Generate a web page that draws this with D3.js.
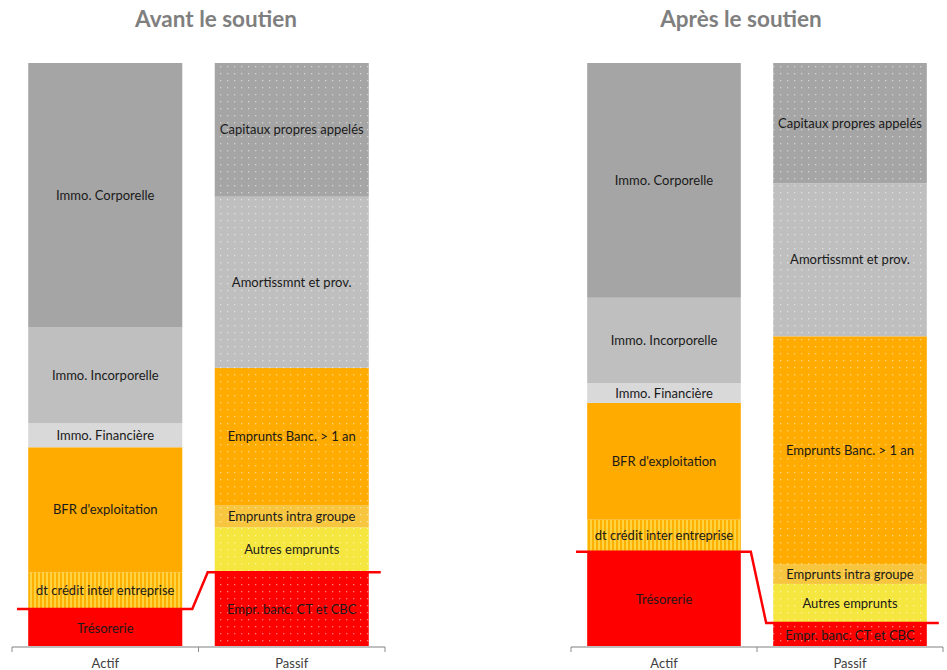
<!DOCTYPE html>
<html>
<head>
<meta charset="utf-8">
<script src="https://cdn.jsdelivr.net/npm/d3@7/dist/d3.min.js"></script>
<style>
  html, body { margin: 0; padding: 0; background: #fff; }
  svg { display: block; }
</style>
</head>
<body>
<svg id="chart" width="947" height="670"></svg>
<script>
// Balance sheet structure, in % of total, before and after the support
const categories = ["Actif", "Passif"];
const titles = ["Avant le soutien", "Après le soutien"];

const actifItems = ["Trésorerie", "dt crédit inter entreprise", "BFR d'exploitation",
  "Immo. Financière", "Immo. Incorporelle", "Immo. Corporelle"];
const passifItems = ["Empr. banc. CT et CBC", "Autres emprunts", "Emprunts intra groupe",
  "Emprunts Banc. > 1 an", "Amortissmnt et prov.", "Capitaux propres appelés"];

const avantActif = [6.5, 6.3, 21.4, 4.1, 16.4, 45.3];
const avantPassif = [12.8, 7.7, 3.8, 23.5, 29.3, 22.9];
const apresActif = [16.3, 5.5, 20.0, 3.4, 14.6, 40.2];
const apresPassif = [4.1, 6.7, 3.4, 39.0, 26.2, 20.6];

// fill keys for each segment (bottom to top)
const actifFills = ["tres", "dtcredit", "bfr", "ifin", "iincorp", "icorp"];
const passifFills = ["p-ct", "p-autres", "p-intra", "p-banc", "p-amort", "p-cap"];

const FONT = "Lato, 'Open Sans', sans-serif";

const svg = d3.select("#chart");
const defs = svg.append("defs");

// dotted patterns for the liabilities side
const dotted = [
  ["p-ct", "#ff0000"],
  ["p-autres", "#f6e640"],
  ["p-intra", "#f7c63e"],
  ["p-banc", "#ffab00"],
  ["p-amort", "#bfbfbf"],
  ["p-cap", "#a5a5a5"]
];
dotted.forEach(([id, col]) => {
  const p = defs.append("pattern").attr("id", id)
    .attr("patternUnits", "userSpaceOnUse").attr("width", 7).attr("height", 7);
  p.append("rect").attr("width", 7).attr("height", 7).attr("fill", col);
  p.append("rect").attr("x", 3).attr("y", 3).attr("width", 1.3).attr("height", 1.3)
    .attr("fill", "rgba(255,255,255,0.5)");
});

// vertical stripes for the inter-company credit
const stripe = defs.append("pattern").attr("id", "dtcredit")
  .attr("patternUnits", "userSpaceOnUse").attr("width", 4).attr("height", 4);
stripe.append("rect").attr("width", 4).attr("height", 4).attr("fill", "#ffd23f");
stripe.append("rect").attr("width", 2).attr("height", 4).attr("fill", "#fdb000");

const solid = {
  tres: "#ff0000",
  dtcredit: "url(#dtcredit)",
  bfr: "#ffab00",
  ifin: "#d9d9d9",
  iincorp: "#bfbfbf",
  icorp: "#a5a5a5"
};
const fillOf = k => solid[k] || `url(#${k})`;

const panels = [
  { title: titles[0], actif: avantActif, passif: avantPassif, range: [12, 385], titleX: 216 },
  { title: titles[1], actif: apresActif, passif: apresPassif, range: [571, 943], titleX: 741 }
];

const y = d3.scaleLinear().domain([0, 100]).range([647, 63]);

function stackOf(names, values, fills) {
  const tops = d3.cumsum(values);
  return values.map((v, i) => ({ name: names[i], y0: tops[i] - v, y1: tops[i], fill: fills[i] }));
}

panels.forEach(panel => {
  const x = d3.scaleBand().domain(categories).range(panel.range)
    .paddingInner(0.174).paddingOuter(0.087);
  const g = svg.append("g");

  // title
  g.append("text")
    .attr("x", panel.titleX).attr("y", 27)
    .attr("text-anchor", "middle")
    .attr("font-family", FONT)
    .attr("font-weight", "bold")
    .attr("font-size", 22.5)
    .attr("fill", "#7f7f7f")
    .text(panel.title);

  const cols = [
    { cat: "Actif", segs: stackOf(actifItems, panel.actif, actifFills) },
    { cat: "Passif", segs: stackOf(passifItems, panel.passif, passifFills) }
  ];

  cols.forEach(col => {
    const cg = g.append("g");
    cg.selectAll("rect").data(col.segs).join("rect")
      .attr("x", x(col.cat))
      .attr("width", x.bandwidth())
      .attr("y", d => y(d.y1))
      .attr("height", d => y(d.y0) - y(d.y1))
      .attr("fill", d => fillOf(d.fill));
    cg.selectAll("text").data(col.segs).join("text")
      .attr("x", x(col.cat) + x.bandwidth() / 2)
      .attr("y", d => (y(d.y0) + y(d.y1)) / 2)
      .attr("dy", "0.35em")
      .attr("text-anchor", "middle")
      .attr("font-family", FONT)
      .attr("font-size", 13)
      .attr("fill", "#1a1a1a")
      .text(d => d.name);
  });

  // category axis
  const axis = g.append("g").attr("transform", `translate(0,${y(0)})`);
  axis.append("line")
    .attr("x1", panel.range[0]).attr("x2", panel.range[1])
    .attr("stroke", "#bfbfbf").attr("stroke-width", 2);
  const bounds = [panel.range[0], x("Passif") - x.step() * x.paddingInner() / 2, panel.range[1]];
  axis.selectAll("line.tick").data(bounds).join("line").attr("class", "tick")
    .attr("x1", d => d).attr("x2", d => d).attr("y1", 0).attr("y2", 5)
    .attr("stroke", "#8c8c8c").attr("stroke-width", 1);
  axis.selectAll("text").data(categories).join("text")
    .attr("x", d => x(d) + x.bandwidth() / 2)
    .attr("y", 21)
    .attr("text-anchor", "middle")
    .attr("font-family", FONT)
    .attr("font-size", 13)
    .attr("fill", "#404040")
    .text(d => d);

  // red line: top of cash on the asset side vs short-term bank debt on the liability side
  const yA = y(panel.actif[0]);
  const yP = y(panel.passif[0]);
  const pts = [
    [panel.range[0] + 5, yA],
    [x("Actif") + x.bandwidth() + 10, yA],
    [x("Passif") - 7, yP],
    [x("Passif") + x.bandwidth() + 12, yP]
  ];
  g.append("path")
    .attr("d", d3.line()(pts))
    .attr("fill", "none")
    .attr("stroke", "#ff0000")
    .attr("stroke-width", 2.5);
});
</script>
</body>
</html>
